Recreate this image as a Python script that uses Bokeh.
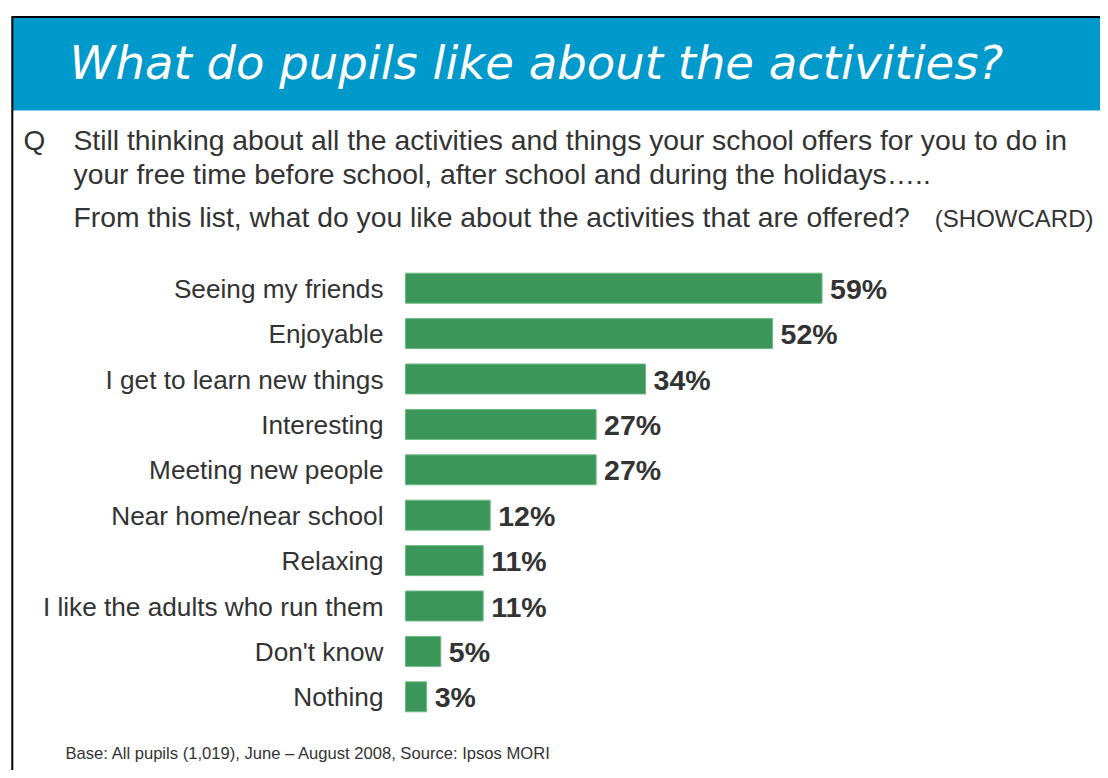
from bokeh.plotting import figure
from bokeh.models import Range1d, ColumnDataSource
from bokeh.core.properties import value
from bokeh.embed import file_html
from bokeh.resources import INLINE

# ---- data ----
categories = ["Seeing my friends", "Enjoyable", "I get to learn new things",
              "Interesting", "Meeting new people", "Near home/near school",
              "Relaxing", "I like the adults who run them", "Don't know", "Nothing"]
percents = [59, 52, 34, 27, 27, 12, 11, 11, 5, 3]
value_labels = [f"{v}%" for v in percents]

title_text = "What do pupils like about the activities?"
question_lines = [
    "Still thinking about all the activities and things your school offers for you to do in",
    "your free time before school, after school and during the holidays\u2026..",
    "From this list, what do you like about the activities that are offered?",
]
showcard_text = "(SHOWCARD)"
footnote_text = "Base: All pupils (1,019), June \u2013 August 2008, Source: Ipsos MORI"

# ---- layout constants (reference pixel space) ----
W, H = 1100, 770
BAR_X0 = 405.0          # pixel where 0% sits
PX_PER_PCT = 7.06
ROW0 = 287.7            # centre of the first bar
ROW_STEP = 45.4
FONT = value("Liberation Sans")
TXT = "#333333"
GREEN = "#3B9659"
BLUE = "#0099CC"

p = figure(width=W, height=H, x_range=Range1d(0, W), y_range=Range1d(H, 0),
           min_border=0, toolbar_location=None, output_backend="svg",
           x_axis_location=None, y_axis_location=None)
p.grid.visible = False
p.outline_line_color = None
p.background_fill_color = "white"
p.border_fill_color = "white"

p.extra_x_ranges = {"pct": Range1d((0 - BAR_X0) / PX_PER_PCT, (W - BAR_X0) / PX_PER_PCT)}
p.extra_y_ranges = {"idx": Range1d((H - ROW0) / ROW_STEP, (0 - ROW0) / ROW_STEP)}

# header band + frame lines
p.quad(left=[12.5], right=[W], top=[17.5], bottom=[110], fill_color=BLUE, line_color=None)
p.segment(x0=[11], y0=[16.5], x1=[W], y1=[16.5], line_color="black", line_width=2)
p.segment(x0=[11.8], y0=[16.5], x1=[11.8], y1=[H], line_color="black", line_width=2)

p.text(x=[69], y=[62], text=[title_text], text_font=value("DejaVu Sans"),
       text_font_style="italic", text_font_size="46.5px", text_color="white",
       text_baseline="alphabetic", text_align="left")

# question
p.text(x=[23], y=[140], text=["Q"], text_font=FONT, text_font_size="28px",
       text_color=TXT, text_baseline="alphabetic")
p.text(x=[73, 73, 73], y=[139.8, 173.8, 216.5], text=question_lines, text_font=FONT,
       text_font_size="28.3px", text_color=TXT, text_baseline="alphabetic")
p.text(x=[1093], y=[218], text=[showcard_text], text_font=FONT, text_font_size="24px",
       text_color=TXT, text_baseline="alphabetic", text_align="right")

# bars
idx = list(range(len(categories)))
src = ColumnDataSource(dict(idx=idx, cat=categories, pct=percents, lab=value_labels,
                            labx=[383] * len(categories)))
p.hbar(y="idx", left=0, right="pct", height=0.66, source=src,
       x_range_name="pct", y_range_name="idx",
       fill_color=GREEN, line_color="#6DBB86", line_width=1)

p.text(x="labx", y="idx", text="cat", source=src, y_range_name="idx",
       text_font=FONT, text_font_size="26.2px", text_color=TXT,
       text_align="right", text_baseline="alphabetic", y_offset=0.5)

p.text(x="pct", y="idx", text="lab", source=src, x_range_name="pct", y_range_name="idx",
       text_font=FONT, text_font_size="28.5px", text_font_style="bold", text_color=TXT,
       text_align="left", text_baseline="alphabetic", x_offset=8, y_offset=0.5)

# footnote
p.text(x=[65], y=[752.5], text=[footnote_text], text_font=FONT, text_font_size="16.6px",
       text_color=TXT, text_baseline="alphabetic")

open("out.html", "w").write(file_html(p, INLINE))
